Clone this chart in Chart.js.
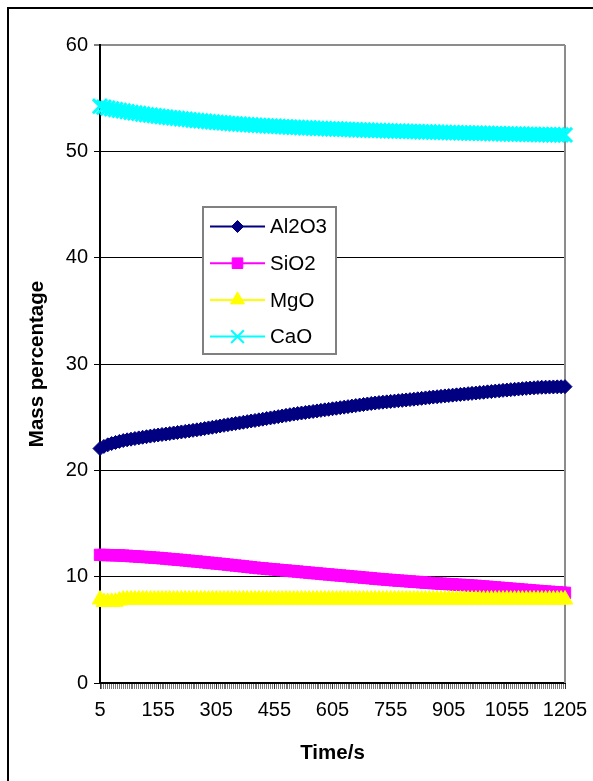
<!DOCTYPE html>
<html>
<head>
<meta charset="utf-8">
<script src="https://cdn.jsdelivr.net/npm/chart.js@4/dist/chart.umd.min.js"></script>
<style>
html,body{margin:0;padding:0;background:#fff;}
#wrap{position:relative;width:593px;height:781px;}
</style>
</head>
<body>
<div id="wrap"><canvas id="c" width="593" height="781"></canvas></div>
<script>
// ---- data ----
const times = [
  5,15,25,35,45,55,65,75,85,95,
  105,115,125,135,145,155,165,175,185,195,
  205,215,225,235,245,255,265,275,285,295,
  305,315,325,335,345,355,365,375,385,395,
  405,415,425,435,445,455,465,475,485,495,
  505,515,525,535,545,555,565,575,585,595,
  605,615,625,635,645,655,665,675,685,695,
  705,715,725,735,745,755,765,775,785,795,
  805,815,825,835,845,855,865,875,885,895,
  905,915,925,935,945,955,965,975,985,995,
  1005,1015,1025,1035,1045,1055,1065,1075,1085,1095,
  1105,1115,1125,1135,1145,1155,1165,1175,1185,1195,
  1205
];
const al2o3 = [
  22.05,22.25,22.40,22.52,22.62,22.72,22.80,22.87,22.93,22.99,
  23.05,23.11,23.16,23.22,23.27,23.32,23.37,23.41,23.46,23.51,
  23.56,23.61,23.66,23.71,23.76,23.81,23.87,23.93,23.99,24.05,
  24.11,24.17,24.23,24.29,24.35,24.41,24.46,24.52,24.58,24.64,
  24.69,24.75,24.81,24.87,24.93,24.99,25.05,25.11,25.17,25.23,
  25.29,25.34,25.39,25.44,25.49,25.54,25.59,25.64,25.69,25.74,
  25.79,25.84,25.89,25.94,25.99,26.04,26.09,26.14,26.19,26.24,
  26.29,26.33,26.37,26.41,26.44,26.48,26.51,26.55,26.58,26.62,
  26.65,26.69,26.73,26.77,26.81,26.85,26.89,26.92,26.96,27.00,
  27.03,27.07,27.10,27.14,27.17,27.21,27.24,27.27,27.31,27.34,
  27.38,27.41,27.45,27.48,27.52,27.55,27.59,27.62,27.65,27.68,
  27.71,27.74,27.76,27.79,27.81,27.82,27.83,27.84,27.85,27.86,
  27.87
];
const sio2 = [
  12.05,12.04,12.03,12.02,12.01,12.00,11.98,11.96,11.93,11.91,
  11.89,11.86,11.84,11.81,11.79,11.76,11.73,11.70,11.66,11.63,
  11.60,11.57,11.53,11.50,11.46,11.43,11.39,11.35,11.32,11.28,
  11.24,11.21,11.17,11.13,11.09,11.05,11.01,10.97,10.93,10.89,
  10.85,10.81,10.78,10.74,10.71,10.68,10.64,10.61,10.58,10.54,
  10.51,10.48,10.44,10.41,10.38,10.34,10.31,10.28,10.24,10.21,
  10.18,10.14,10.11,10.08,10.05,10.01,9.98,9.95,9.91,9.88,
  9.85,9.81,9.78,9.75,9.72,9.69,9.66,9.63,9.61,9.58,
  9.55,9.52,9.50,9.47,9.44,9.42,9.39,9.37,9.34,9.32,
  9.30,9.28,9.25,9.23,9.21,9.19,9.16,9.14,9.11,9.08,
  9.05,9.02,8.99,8.96,8.93,8.90,8.87,8.84,8.81,8.78,
  8.75,8.72,8.69,8.66,8.63,8.60,8.58,8.55,8.53,8.50,
  8.48
];
const mgo = [
  7.85,7.62,7.62,7.63,7.64,7.75,7.84,7.85,7.85,7.85,
  7.85,7.86,7.85,7.85,7.85,7.86,7.85,7.85,7.86,7.85,
  7.85,7.85,7.86,7.85,7.85,7.85,7.86,7.85,7.85,7.85,
  7.86,7.85,7.85,7.86,7.85,7.85,7.85,7.86,7.85,7.85,
  7.85,7.86,7.85,7.85,7.85,7.86,7.85,7.85,7.86,7.85,
  7.85,7.85,7.86,7.85,7.85,7.85,7.86,7.85,7.85,7.85,
  7.86,7.85,7.85,7.86,7.85,7.85,7.85,7.86,7.85,7.85,
  7.85,7.86,7.85,7.85,7.85,7.86,7.85,7.85,7.86,7.85,
  7.85,7.85,7.86,7.85,7.85,7.85,7.86,7.85,7.85,7.85,
  7.86,7.85,7.85,7.86,7.85,7.85,7.85,7.86,7.85,7.85,
  7.85,7.86,7.85,7.85,7.85,7.86,7.85,7.85,7.86,7.85,
  7.85,7.85,7.86,7.85,7.85,7.85,7.86,7.85,7.85,7.85,
  7.85
];
const cao = [
  54.25,54.15,54.07,54.00,53.93,53.86,53.80,53.73,53.67,53.61,
  53.56,53.50,53.45,53.40,53.36,53.31,53.27,53.22,53.18,53.14,
  53.10,53.06,53.02,52.98,52.94,52.90,52.87,52.83,52.80,52.76,
  52.73,52.70,52.67,52.64,52.61,52.58,52.56,52.53,52.51,52.48,
  52.46,52.44,52.42,52.40,52.38,52.36,52.34,52.32,52.30,52.28,
  52.26,52.25,52.23,52.21,52.20,52.18,52.17,52.15,52.14,52.12,
  52.11,52.10,52.08,52.07,52.06,52.04,52.03,52.02,52.00,51.99,
  51.98,51.97,51.96,51.95,51.93,51.92,51.91,51.90,51.89,51.88,
  51.87,51.86,51.85,51.84,51.83,51.82,51.81,51.80,51.79,51.78,
  51.77,51.76,51.75,51.74,51.73,51.72,51.71,51.71,51.70,51.69,
  51.68,51.67,51.66,51.66,51.65,51.64,51.63,51.62,51.62,51.61,
  51.60,51.60,51.59,51.58,51.58,51.57,51.56,51.56,51.55,51.55,
  51.54
];
const seriesNames = ["Al2O3","SiO2","MgO","CaO"];
const xTickLabels = [5,155,305,455,605,755,905,1055,1205];
const yTickValues = [0,10,20,30,40,50,60];
const xTitle = "Time/s";
const yTitle = "Mass percentage";

// ---- chart ----
const FONT = '"Liberation Sans", Arial, sans-serif';
const toPts = (arr) => times.map((t,i)=>({x:t, y:arr[i]}));

const styles = [
  {color:'#000080', pointStyle:'rectRot', radius:7, order:4, bw:1, lr:6},
  {color:'#FF00FF', pointStyle:'rect', radius:8, order:3, bw:1, lr:7.5},
  {color:'#FFFF00', pointStyle:'triangle', radius:9, order:2, bw:1, lr:8},
  {color:'#00FFFF', pointStyle:'crossRot', radius:10, order:1, bw:3, lr:9}
];
const seriesData = [al2o3, sio2, mgo, cao];

function drawMarker(ctx, style, x, y) {
  const r = style.lr;
  ctx.save();
  ctx.fillStyle = style.color;
  ctx.strokeStyle = style.color;
  ctx.lineWidth = style.pointStyle === 'crossRot' ? 2 : 1;
  ctx.beginPath();
  if (style.pointStyle === 'rectRot') {
    ctx.moveTo(x - r, y); ctx.lineTo(x, y - r); ctx.lineTo(x + r, y); ctx.lineTo(x, y + r); ctx.closePath();
    ctx.fill(); ctx.stroke();
  } else if (style.pointStyle === 'rect') {
    const s = Math.SQRT1_2 * r;
    ctx.rect(x - s, y - s, 2 * s, 2 * s);
    ctx.fill(); ctx.stroke();
  } else if (style.pointStyle === 'triangle') {
    const a0 = 0, a1 = 2*Math.PI/3, a2 = 4*Math.PI/3;
    ctx.moveTo(x + Math.sin(a0)*r, y - Math.cos(a0)*r);
    ctx.lineTo(x + Math.sin(a1)*r, y - Math.cos(a1)*r);
    ctx.lineTo(x + Math.sin(a2)*r, y - Math.cos(a2)*r);
    ctx.closePath();
    ctx.fill(); ctx.stroke();
  } else {
    const d = Math.SQRT1_2 * r;
    ctx.moveTo(x - d, y - d); ctx.lineTo(x + d, y + d);
    ctx.moveTo(x - d, y + d); ctx.lineTo(x + d, y - d);
    ctx.stroke();
  }
  ctx.restore();
}

const decor = {
  id: 'decor',
  beforeDraw(chart) {
    const ctx = chart.ctx;
    ctx.save();
    ctx.fillStyle = '#fff';
    ctx.fillRect(0, 0, chart.width, chart.height);
    ctx.strokeStyle = '#000';
    ctx.lineWidth = 2;
    ctx.beginPath();
    ctx.moveTo(8, chart.height + 2); ctx.lineTo(8, 8); ctx.lineTo(chart.width + 2, 8);
    ctx.stroke();
    ctx.restore();
  },
  beforeDatasetsDraw(chart) {
    const ctx = chart.ctx, a = chart.chartArea;
    ctx.save();
    ctx.strokeStyle = '#8c8c8c';
    ctx.lineWidth = 2;
    ctx.beginPath();
    ctx.moveTo(a.right, a.top); ctx.lineTo(a.right, a.bottom);
    ctx.stroke();
    ctx.restore();
  },
  afterDraw(chart) {
    const ctx = chart.ctx, a = chart.chartArea;
    ctx.save();
    ctx.fillStyle = '#000';
    ctx.font = 'bold 20.5px ' + FONT;
    ctx.textAlign = 'center';
    ctx.textBaseline = 'middle';
    ctx.fillText(xTitle, (a.left + a.right) / 2, 753);
    ctx.translate(37, (a.top + a.bottom) / 2);
    ctx.rotate(-Math.PI / 2);
    ctx.fillText(yTitle, 0, 0);
    ctx.restore();

    ctx.save();
    const lx = 203, ly = 207, lw = 133, lh = 147;
    ctx.fillStyle = '#fff';
    ctx.fillRect(lx, ly, lw, lh);
    ctx.strokeStyle = '#808080';
    ctx.lineWidth = 2;
    ctx.strokeRect(lx, ly, lw, lh);
    ctx.font = '20.5px ' + FONT;
    ctx.textAlign = 'left';
    ctx.textBaseline = 'middle';
    chart.data.datasets.forEach((ds, i) => {
      const y = 226.5 + i * 36.7;
      const st = styles[i];
      ctx.strokeStyle = st.color;
      ctx.lineWidth = 2;
      ctx.beginPath();
      ctx.moveTo(210, y); ctx.lineTo(265, y);
      ctx.stroke();
      drawMarker(ctx, st, 237.5, y);
      ctx.fillStyle = '#000';
      ctx.fillText(ds.label, 270, y + 1);
    });
    ctx.restore();
  }
};

new Chart(document.getElementById('c'), {
  type: 'line',
  data: {
    datasets: seriesNames.map((name, i) => ({
      label: name,
      data: toPts(seriesData[i]),
      borderColor: styles[i].color,
      backgroundColor: styles[i].color,
      pointBackgroundColor: styles[i].color,
      pointBorderColor: styles[i].color,
      pointStyle: styles[i].pointStyle,
      pointRadius: styles[i].radius,
      pointBorderWidth: styles[i].bw,
      borderWidth: 2,
      tension: 0,
      fill: false,
      clip: false,
      order: styles[i].order
    }))
  },
  options: {
    responsive: false,
    animation: false,
    devicePixelRatio: 1,
    layout: { padding: { left: 0, top: 45, right: 28, bottom: 0 } },
    plugins: { legend: { display: false }, tooltip: { enabled: false } },
    scales: {
      x: {
        type: 'linear',
        min: 5, max: 1205,
        afterFit: (s) => { s.height = 98; s.paddingLeft = 0; s.paddingRight = 0; },
        grid: {
          drawOnChartArea: false,
          drawTicks: true,
          tickLength: 6,
          tickWidth: 1,
          tickColor: (c) => (c.tick && xTickLabels.includes(c.tick.value)) ? '#333' : '#777'
        },
        border: { display: true, color: '#000', width: 2 },
        ticks: {
          stepSize: 5,
          autoSkip: false,
          maxRotation: 0,
          minRotation: 0,
          padding: 9,
          color: '#000',
          font: { family: FONT, size: 20 },
          callback: (v) => xTickLabels.includes(v) ? String(v) : ''
        }
      },
      y: {
        min: 0, max: 60,
        afterFit: (s) => { s.width = 100; s.paddingTop = 0; s.paddingBottom = 0; },
        afterBuildTicks: (s) => { s.ticks = yTickValues.map(v => ({value: v})); },
        grid: {
          color: (c) => (c.tick && c.tick.value === 60) ? '#8c8c8c' : '#000',
          lineWidth: (c) => (c.tick && c.tick.value === 60) ? 2 : 1,
          tickColor: '#000',
          tickLength: 6,
          tickWidth: 1
        },
        border: { display: true, color: '#000', width: 2 },
        ticks: {
          padding: 6,
          color: '#000',
          font: { family: FONT, size: 20 },
          callback: (v) => String(v)
        }
      }
    }
  },
  plugins: [decor]
});
</script>
</body>
</html>
